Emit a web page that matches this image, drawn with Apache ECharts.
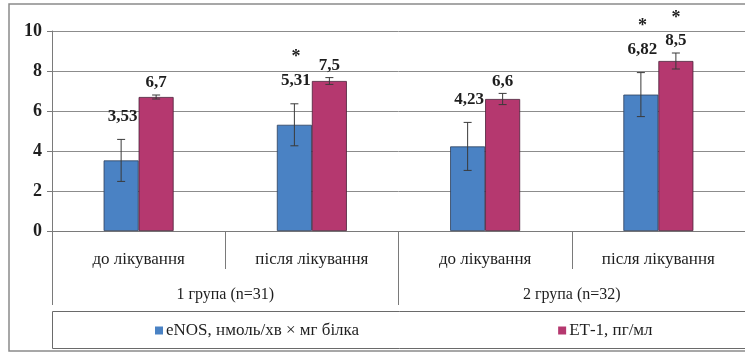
<!DOCTYPE html>
<html>
<head>
<meta charset="utf-8">
<script src="https://cdn.jsdelivr.net/npm/echarts@6/dist/echarts.min.js"></script>
<style>
  html, body { margin: 0; padding: 0; background: #fff; }
  #chart { width: 745px; height: 354px; }
</style>
</head>
<body>
<div id="chart"></div>
<script>
// Treatment stages within each patient group
const stages = ['до лікування', 'після лікування', 'до лікування', 'після лікування'];
const groups = ['1 група (n=31)', '2 група (n=32)'];

// Series names
const enosName = 'eNOS, нмоль/хв × мг білка';
const et1Name = 'ЕТ-1, пг/мл';

// Mean values
const enosValues = [3.53, 5.31, 4.23, 6.82];
const et1Values = [6.7, 7.5, 6.6, 8.5];

// Error margins (±)
const enosErrors = [1.05, 1.05, 1.2, 1.1];
const et1Errors = [0.1, 0.17, 0.28, 0.4];

// Value labels as printed
const enosLabels = ['3,53', '5,31', '4,23', '6,82'];
const et1Labels = ['6,7', '7,5', '6,6', '8,5'];

// Statistically significant differences (marked with *)
const enosSignificant = [false, true, false, true];
const et1Significant = [false, false, false, true];

// Y axis ticks
const yTicks = [0, 2, 4, 6, 8, 10];

const BLUE = '#4a82c4';
const PINK = '#b5386f';
const SERIF = '"Liberation Serif", "Times New Roman", serif';
const BAR_W = 35;

const chart = echarts.init(document.getElementById('chart'), null, { renderer: 'canvas' });

// Error bar + value label + significance star for one series
function annotator(values, errors, labels, sig, side, labelGap, labelDx) {
  return function (params, api) {
    const i = params.dataIndex;
    const center = api.coord([i, 0])[0];
    const x = center + side * BAR_W / 2;
    const top = api.coord([i, values[i] + errors[i]])[1];
    const bottom = api.coord([i, values[i] - errors[i]])[1];
    const cap = 4;
    const lineStyle = { stroke: '#3a3a3a', lineWidth: 1 };
    const children = [
      { type: 'line', shape: { x1: x, y1: top, x2: x, y2: bottom }, style: lineStyle },
      { type: 'line', shape: { x1: x - cap, y1: top, x2: x + cap, y2: top }, style: lineStyle },
      { type: 'line', shape: { x1: x - cap, y1: bottom, x2: x + cap, y2: bottom }, style: lineStyle }
    ];
    const ly = top - labelGap;
    children.push({
      type: 'text',
      style: {
        x: x + labelDx, y: ly, text: labels[i],
        font: 'bold 17px ' + SERIF, fill: '#1e1e1e',
        textAlign: 'center', textVerticalAlign: 'middle'
      }
    });
    if (sig[i]) {
      children.push({
        type: 'text',
        style: {
          x: x + labelDx, y: ly - 23, text: '*',
          font: 'bold 18px ' + SERIF, fill: '#1e1e1e',
          textAlign: 'center', textVerticalAlign: 'middle'
        }
      });
    }
    return { type: 'group', children: children };
  };
}

const option = {
  animation: false,
  backgroundColor: '#fff',
  textStyle: { fontFamily: SERIF },
  grid: { left: 52, top: 31, bottom: 123, right: -4, containLabel: false },
  graphic: [
    {
      // outer chart frame
      type: 'rect',
      shape: { x: 9, y: 4, width: 760, height: 347 },
      style: { fill: 'none', stroke: '#8a8a8a', lineWidth: 1.5 },
      silent: true, z: -1
    },
    {
      // legend frame
      type: 'rect',
      shape: { x: 52.5, y: 311.5, width: 720, height: 37 },
      style: { fill: 'none', stroke: '#6a6a6a', lineWidth: 1 },
      silent: true, z: -1
    }
  ],
  legend: {
    left: 155, top: 322,
    padding: 0,
    itemWidth: 8, itemHeight: 8, itemGap: 199,
    icon: 'rect',
    itemStyle: { borderWidth: 0 },
    textStyle: { fontFamily: SERIF, fontSize: 17, color: '#1e1e1e', padding: [0, 0, 0, -2] },
    data: [enosName, et1Name]
  },
  xAxis: [
    {
      type: 'category',
      data: stages,
      position: 'bottom',
      axisLine: { show: true, lineStyle: { color: '#7a7a7a', width: 1 } },
      axisTick: { show: true, length: 38, lineStyle: { color: '#7a7a7a' } },
      axisLabel: { margin: 20, fontFamily: SERIF, fontSize: 17, color: '#1e1e1e' }
    },
    {
      type: 'category',
      data: groups,
      position: 'bottom',
      offset: 38,
      axisLine: { show: false },
      axisTick: { show: true, length: 36, lineStyle: { color: '#7a7a7a' } },
      axisLabel: { margin: 18, fontFamily: SERIF, fontSize: 16, color: '#1e1e1e' }
    }
  ],
  yAxis: {
    type: 'value',
    min: yTicks[0], max: yTicks[yTicks.length - 1], interval: 2,
    axisLine: { show: true, lineStyle: { color: '#7a7a7a' } },
    axisTick: { show: true, length: 5, lineStyle: { color: '#7a7a7a' } },
    splitLine: { lineStyle: { color: '#8c8c8c', width: 1 } },
    axisLabel: { margin: 10, fontFamily: SERIF, fontWeight: 'bold', fontSize: 18, color: '#1e1e1e' }
  },
  series: [
    {
      name: enosName, type: 'bar', xAxisIndex: 0,
      data: enosValues, barWidth: BAR_W, barGap: '0%',
      itemStyle: { color: BLUE, borderColor: '#2d3f5a', borderWidth: 0.8 }
    },
    {
      name: et1Name, type: 'bar', xAxisIndex: 0,
      data: et1Values, barWidth: BAR_W, barGap: '0%',
      itemStyle: { color: PINK, borderColor: '#4a2038', borderWidth: 0.8 }
    },
    {
      type: 'custom', xAxisIndex: 0, z: 5,
      data: enosValues.map((v, i) => [i, v]),
      renderItem: annotator(enosValues, enosErrors, enosLabels, enosSignificant, -1, 23, 1.5)
    },
    {
      type: 'custom', xAxisIndex: 0, z: 5,
      data: et1Values.map((v, i) => [i, v]),
      renderItem: annotator(et1Values, et1Errors, et1Labels, et1Significant, 1, 12, 0)
    }
  ]
};

chart.setOption(option);
</script>
</body>
</html>
